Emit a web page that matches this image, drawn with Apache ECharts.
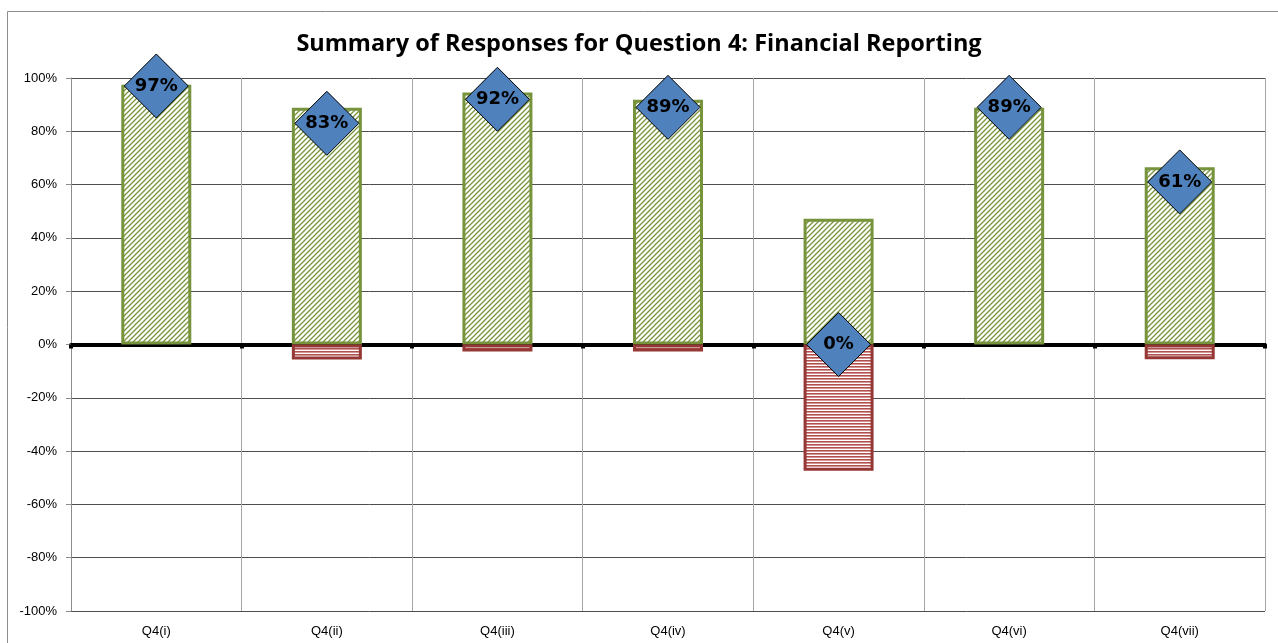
<!DOCTYPE html>
<html>
<head>
<meta charset="utf-8">
<script src="https://cdn.jsdelivr.net/npm/echarts@6/dist/echarts.min.js"></script>
<style>
  html, body { margin: 0; padding: 0; background: #fff; }
  #chart { width: 1278px; height: 643px; }
</style>
</head>
<body>
<div id="chart"></div>
<script>
  var categories = ['Q4(i)', 'Q4(ii)', 'Q4(iii)', 'Q4(iv)', 'Q4(v)', 'Q4(vi)', 'Q4(vii)'];
  var agreeValues = [97.5, 88.8, 94.6, 91.8, 47.2, 88.8, 66.5];
  var disagreeValues = [0, -5.6, -2.6, -2.6, -47.4, 0, -5.5];
  var netValues = [97, 83, 92, 89, 0, 89, 61];
  var yTicks = [-100, -80, -60, -40, -20, 0, 20, 40, 60, 80, 100];

  function makeHatch() {
    var c = document.createElement('canvas');
    c.width = 5; c.height = 5;
    var ctx = c.getContext('2d');
    ctx.fillStyle = '#ffffff';
    ctx.fillRect(0, 0, 5, 5);
    ctx.strokeStyle = '#77933C';
    ctx.lineWidth = 1.3;
    ctx.beginPath();
    ctx.moveTo(-1, 6); ctx.lineTo(6, -1);
    ctx.moveTo(-1, 1); ctx.lineTo(1, -1);
    ctx.moveTo(4, 6); ctx.lineTo(6, 4);
    ctx.stroke();
    return c;
  }

  function makeStripes() {
    var c = document.createElement('canvas');
    c.width = 4; c.height = 3;
    var ctx = c.getContext('2d');
    ctx.fillStyle = '#ffffff';
    ctx.fillRect(0, 0, 4, 3);
    ctx.fillStyle = '#B2504E';
    ctx.fillRect(0, 0, 4, 1.6);
    return c;
  }

  var chart = echarts.init(document.getElementById('chart'));

  var option = {
    animation: false,
    backgroundColor: '#ffffff',
    title: {
      text: 'Summary of Responses for Question 4: Financial Reporting',
      left: 'center',
      top: 27,
      textStyle: {
        fontFamily: 'Open Sans',
        fontWeight: 'bold',
        fontSize: 23.5,
        color: '#000'
      }
    },
    graphic: [{
      type: 'rect',
      shape: { x: 7.5, y: 11.5, width: 1300, height: 700 },
      style: { fill: 'none', stroke: '#8c8c8c', lineWidth: 1 },
      silent: true
    }],
    grid: {
      left: 71,
      right: 13,
      top: 78,
      bottom: 32
    },
    xAxis: [{
      type: 'category',
      data: categories,
      axisLine: { onZero: true, lineStyle: { color: '#000', width: 4 } },
      axisTick: { show: true, length: 4, lineStyle: { color: '#000', width: 4 } },
      axisLabel: { show: false },
      splitLine: { show: true, lineStyle: { color: '#a6a6a6', width: 1 } }
    }, {
      type: 'category',
      data: categories,
      position: 'bottom',
      axisLine: { show: false, onZero: false },
      axisTick: { show: false },
      axisLabel: {
        margin: 14,
        fontFamily: 'Liberation Sans',
        fontSize: 13,
        color: '#000'
      },
      splitLine: { show: false }
    }],
    yAxis: {
      type: 'value',
      min: -100,
      max: 100,
      interval: 20,
      axisLine: { show: true, lineStyle: { color: '#8c8c8c', width: 1 } },
      axisTick: { show: true, length: 5, lineStyle: { color: '#8c8c8c' } },
      axisLabel: {
        formatter: function (v) { return yTicks.indexOf(v) >= 0 ? v + '%' : ''; },
        margin: 14,
        fontFamily: 'Liberation Sans',
        fontSize: 13,
        color: '#000'
      },
      splitLine: { show: true, lineStyle: { color: '#4d4d4d', width: 1 } }
    },
    series: [{
      name: 'Agree',
      type: 'bar',
      stack: 'resp',
      xAxisIndex: 0,
      barWidth: 70,
      data: agreeValues,
      itemStyle: {
        color: { image: makeHatch(), repeat: 'repeat' },
        borderColor: '#77933C',
        borderWidth: 3
      }
    }, {
      name: 'Disagree',
      type: 'bar',
      stack: 'resp',
      xAxisIndex: 0,
      barWidth: 70,
      data: disagreeValues.map(function (v) { return v === 0 ? '-' : v; }),
      itemStyle: {
        color: { image: makeStripes(), repeat: 'repeat' },
        borderColor: '#953735',
        borderWidth: 3
      }
    }, {
      name: 'Net',
      type: 'scatter',
      xAxisIndex: 0,
      symbol: 'diamond',
      symbolSize: [64, 64],
      z: 5,
      data: netValues,
      itemStyle: {
        color: '#4F81BD',
        borderColor: '#000',
        borderWidth: 1,
        opacity: 1
      },
      label: {
        show: true,
        position: 'inside',
        formatter: '{c}%',
        fontFamily: 'DejaVu Sans',
        fontWeight: 'bold',
        fontSize: 18,
        color: '#000'
      }
    }]
  };

  chart.setOption(option);
</script>
</body>
</html>
